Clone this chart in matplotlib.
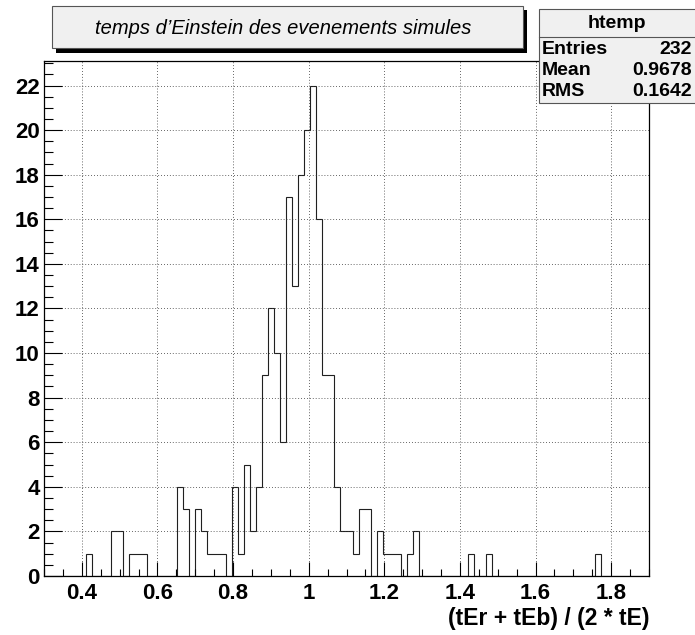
import numpy as np
import matplotlib
matplotlib.use("Agg")
from matplotlib import pyplot as plt
from matplotlib.patches import Rectangle
from matplotlib.ticker import MultipleLocator

# histogramme htemp : 100 bins entre 0.3 et 1.9
x_min = 0.3
x_max = 1.9
nb_bins = 100
comptes = [
    0, 0, 0, 0, 0, 0, 0, 1, 0, 0,
    0, 2, 2, 0, 1, 1, 1, 0, 0, 0,
    0, 0, 4, 3, 0, 3, 2, 1, 1, 1,
    0, 4, 1, 5, 2, 4, 9, 12, 10, 6,
    17, 13, 18, 20, 22, 16, 9, 9, 4, 2,
    2, 1, 3, 3, 0, 2, 1, 1, 1, 0,
    1, 2, 0, 0, 0, 0, 0, 0, 0, 0,
    1, 0, 0, 1, 0, 0, 0, 0, 0, 0,
    0, 0, 0, 0, 0, 0, 0, 0, 0, 0,
    0, 1, 0, 0, 0, 0, 0, 0, 0, 0,
]
x_ticks = [0.4, 0.6, 0.8, 1.0, 1.2, 1.4, 1.6, 1.8]
x_labels = ["0.4", "0.6", "0.8", "1", "1.2", "1.4", "1.6", "1.8"]
titre = "temps d\u2019Einstein des evenements simules"
xlabel = "(tEr + tEb) / (2 * tE)"
stats_nom = "htemp"
stats_lignes = [("Entries", "232"), ("Mean", "0.9678"), ("RMS", "0.1642")]

plt.rcParams['font.family'] = ['Liberation Sans', 'DejaVu Sans']

W, H = 695, 635
fig = plt.figure(figsize=(W / 100, H / 100), dpi=100)
fig.patch.set_facecolor('white')

def fx(px):
    return px / W

def fy(py):
    return 1 - py / H

ax = fig.add_axes([fx(44), fy(576), fx(649) - fx(44), fy(61) - fy(576)])
bords = np.linspace(x_min, x_max, nb_bins + 1)
ax.stairs(comptes, bords, color='#202020', lw=0.8, baseline=0)

ax.set_xlim(x_min, x_max)
ax.set_ylim(0, 23.1)
ax.set_xticks(x_ticks)
ax.set_xticklabels(x_labels)
ax.xaxis.set_minor_locator(MultipleLocator(0.05))
ax.yaxis.set_major_locator(MultipleLocator(2))
ax.yaxis.set_minor_locator(MultipleLocator(0.5))
ax.tick_params(axis='both', which='both', direction='in', top=False, right=False, width=0.8)
ax.tick_params(axis='x', which='major', length=10, pad=5)
ax.tick_params(axis='x', which='minor', length=5)
ax.tick_params(axis='y', which='major', length=13, pad=3)
ax.tick_params(axis='y', which='minor', length=6.5)
for lab in ax.get_xticklabels() + ax.get_yticklabels():
    lab.set_fontweight('bold')
    lab.set_fontsize(16)
ax.grid(True, which='major', linestyle=(0, (1, 2.5)), color='#333333', lw=0.6)
for s in ax.spines.values():
    s.set_linewidth(0.9)
ax.set_xlabel(xlabel, fontsize=16.5, fontweight='bold', loc='right', labelpad=2)

# boite du titre avec ombre
fig.add_artist(Rectangle((fx(56), fy(53)), fx(527) - fx(56), fy(10) - fy(53),
                         transform=fig.transFigure, facecolor='black', edgecolor='none'))
fig.add_artist(Rectangle((fx(52), fy(48)), fx(523) - fx(52), fy(6) - fy(48),
                         transform=fig.transFigure, facecolor='#f0f0f0', edgecolor='#555555', lw=0.8))
fig.text(fx(283), fy(28), titre, ha='center', va='center', fontsize=14.5, style='italic')

# boite de stats
fig.add_artist(Rectangle((fx(539), fy(103)), fx(700) - fx(539), fy(9) - fy(103),
                         transform=fig.transFigure, facecolor='#f0f0f0', edgecolor='#555555', lw=0.8))
fig.add_artist(plt.Line2D([fx(539), fx(695)], [fy(37), fy(37)], transform=fig.transFigure,
                          color='#555555', lw=0.8))
fig.text(fx(617), fy(23), stats_nom, ha='center', va='center', fontsize=14, fontweight='bold')
for i, (nom, val) in enumerate(stats_lignes):
    y = 49 + 21.5 * i
    fig.text(fx(542), fy(y), nom, ha='left', va='center', fontsize=14, fontweight='bold')
    fig.text(fx(692), fy(y), val, ha='right', va='center', fontsize=14, fontweight='bold')

fig.savefig("out.png", dpi=100)
